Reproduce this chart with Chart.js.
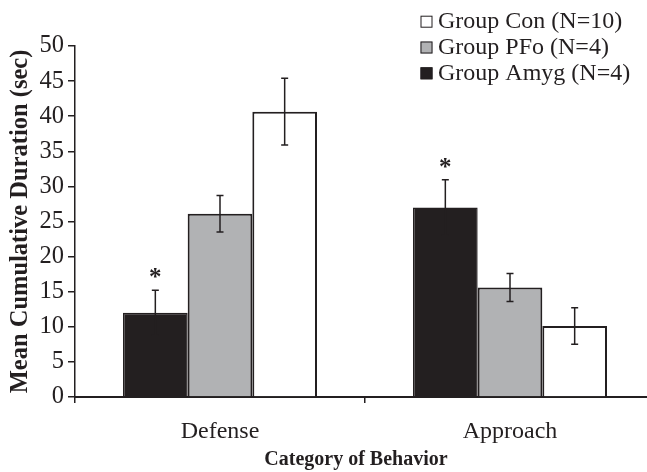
<!DOCTYPE html>
<html>
<head>
<meta charset="utf-8">
<title>Mean Cumulative Duration by Category of Behavior</title>
<script src="https://cdn.jsdelivr.net/npm/chart.js@4.4.1/dist/chart.umd.min.js"></script>
<style>
  html, body { margin: 0; padding: 0; overflow: hidden; background: #ffffff; width: 647px; height: 472px; }
  #wrap { width: 660px; height: 472px; }
</style>
</head>
<body>
<div id="wrap"><canvas id="c" width="660" height="472"></canvas></div>
<script>
// Behaviour categories and group means (sec) with SEM
const categories = ['Defense', 'Approach'];
const groupLabels = ['Group Amyg (N=4)', 'Group PFo (N=4)', 'Group Con (N=10)'];
const amygMeans = [12.0, 27.0];
const pfoMeans = [26.1, 15.6];
const conMeans = [40.65, 10.1];
const amygErr = [3.2, 3.95];
const pfoErr = [2.6, 2.0];
const conErr = [4.75, 2.6];
// Significance markers above the Amyg bars
const amygMarks = ['*', '*'];
const yTicks = [0, 5, 10, 15, 20, 25, 30, 35, 40, 45, 50];
const xTitle = 'Category of Behavior';

const ink = '#231f20';
const serif = "'Liberation Serif', 'DejaVu Serif', serif";

const errorBars = {
  id: 'errorBars',
  afterDatasetsDraw(chart) {
    const ctx = chart.ctx;
    const y = chart.scales.y;
    ctx.save();
    ctx.strokeStyle = ink;
    ctx.lineWidth = 1.5;
    chart.data.datasets.forEach((ds, di) => {
      const meta = chart.getDatasetMeta(di);
      meta.data.forEach((bar, i) => {
        const v = ds.data[i], e = ds.errors[i];
        const yt = y.getPixelForValue(v + e);
        const yb = y.getPixelForValue(v - e);
        const x = bar.x, cap = 3.5;
        ctx.beginPath();
        ctx.moveTo(x, yt); ctx.lineTo(x, yb);
        ctx.moveTo(x - cap, yt); ctx.lineTo(x + cap, yt);
        ctx.moveTo(x - cap, yb); ctx.lineTo(x + cap, yb);
        ctx.stroke();
        if (ds.marks && ds.marks[i]) {
          ctx.fillStyle = ink;
          ctx.font = "bold 25px " + serif;
          ctx.textAlign = 'center';
          ctx.textBaseline = 'alphabetic';
          ctx.fillText(ds.marks[i], x, yt - 5);
        }
      });
    });
    ctx.restore();
  }
};

// Legend box at top right plus the category axis caption
const annotations = {
  id: 'annotations',
  afterDraw(chart) {
    const ctx = chart.ctx;
    const sets = chart.data.datasets.slice().reverse();
    ctx.save();
    ctx.font = "24px " + serif;
    ctx.textAlign = 'left';
    ctx.textBaseline = 'alphabetic';
    sets.forEach((ds, k) => {
      const base = 28.3 + k * 25.8;
      const top = base - 12.6;
      ctx.fillStyle = ds.backgroundColor;
      ctx.fillRect(420.5, top, 12, 12);
      ctx.strokeStyle = ink;
      ctx.lineWidth = 1;
      ctx.strokeRect(421, top + 0.5, 11, 11);
      ctx.fillStyle = ink;
      ctx.fillText(ds.label, 438, base);
    });
    ctx.font = "bold 20px " + serif;
    ctx.textAlign = 'center';
    ctx.fillText(xTitle, 356, 465);
    ctx.restore();
  }
};

new Chart(document.getElementById('c'), {
  type: 'bar',
  data: {
    labels: categories,
    datasets: [
      { label: groupLabels[0], data: amygMeans, errors: amygErr, marks: amygMarks,
        backgroundColor: '#231f20', borderColor: ink, borderWidth: 1.5 },
      { label: groupLabels[1], data: pfoMeans, errors: pfoErr,
        backgroundColor: '#b1b2b4', borderColor: ink, borderWidth: 2 },
      { label: groupLabels[2], data: conMeans, errors: conErr,
        backgroundColor: '#ffffff', borderColor: ink, borderWidth: 2 }
    ]
  },
  options: {
    responsive: false,
    devicePixelRatio: 1,
    animation: false,
    layout: { padding: { top: 46, right: 5, left: 0, bottom: 0 } },
    categoryPercentage: 0.669,
    barPercentage: 1.0,
    plugins: { legend: { display: false }, tooltip: { enabled: false } },
    scales: {
      x: {
        grid: { offset: true, drawOnChartArea: false, tickLength: 6, color: ink, lineWidth: 1.5 },
        border: { color: ink, width: 2 },
        ticks: { color: ink, font: { family: serif, size: 24 }, padding: 14 },
        afterFit(s) { s.height = 75; }
      },
      y: {
        min: 0, max: 50,
        afterBuildTicks(s) { s.ticks = yTicks.map(v => ({ value: v })); },
        grid: { drawOnChartArea: false, tickLength: 7, color: ink, lineWidth: 1.5 },
        border: { color: ink, width: 1.5 },
        ticks: { color: ink, font: { family: serif, size: 24.5 }, padding: 4 },
        title: { display: true, text: 'Mean Cumulative Duration (sec)', color: ink,
                 font: { family: serif, size: 24.5, weight: 'bold', lineHeight: 1 },
                 padding: { top: 8, bottom: 0 } },
        afterFit(s) { s.width = 75; }
      }
    }
  },
  plugins: [errorBars, annotations]
});
</script>
</body>
</html>
